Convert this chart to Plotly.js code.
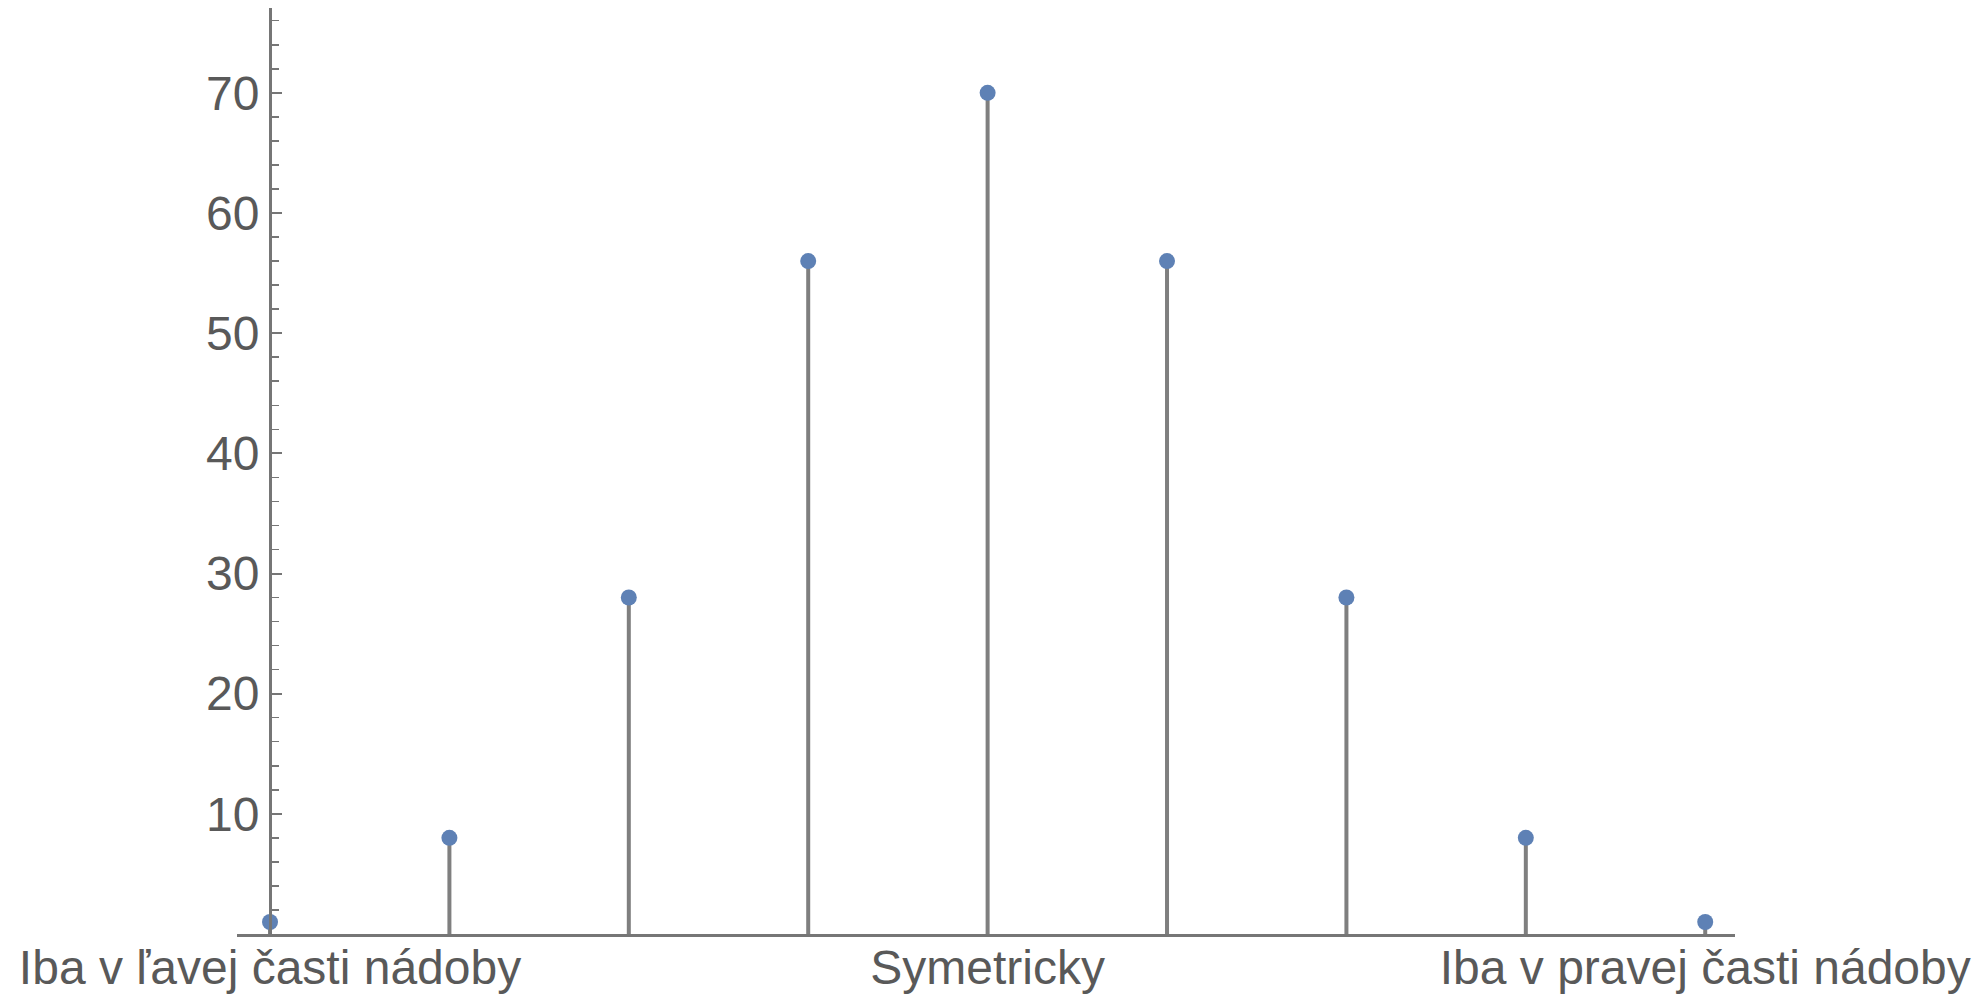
<!DOCTYPE html>
<html>
<head>
<meta charset="utf-8">
<script src="https://cdn.plot.ly/plotly-3.0.1.min.js"></script>
<style>html,body{margin:0;padding:0;background:#fff;}#chart{width:1985px;height:995px;}</style>
</head>
<body>
<div id="chart"></div>
<script>
// Data
const positions = [0, 1, 2, 3, 4, 5, 6, 7, 8];
const counts = [1, 8, 28, 56, 70, 56, 28, 8, 1];
const xTickPositions = [0, 4, 8];
const xTickLabels = ["Iba v ľavej časti nádoby", "Symetricky", "Iba v pravej časti nádoby"];
const yTickValues = [10, 20, 30, 40, 50, 60, 70];
const yMinorValues = [2, 4, 6, 8, 12, 14, 16, 18, 22, 24, 26, 28, 32, 34, 36, 38, 42, 44, 46, 48, 52, 54, 56, 58, 62, 64, 66, 68, 72, 74, 76];

const xmin = -0.184, xmax = 8.166;
const zerosArr = counts.map(() => 0);

const trace = {
  type: 'scatter',
  mode: 'markers',
  x: positions,
  y: counts,
  marker: {color: '#5E81B5', size: 16},
  error_y: {
    type: 'data',
    symmetric: false,
    array: zerosArr,
    arrayminus: counts,
    width: 0,
    thickness: 4,
    color: '#7f7f7f'
  },
  hoverinfo: 'x+y',
  showlegend: false
};

const font = {family: '"Liberation Sans", Arial, sans-serif', size: 48, color: '#595959'};

const layout = {
  width: 1985,
  height: 995,
  margin: {l: 237, r: 250, t: 8, b: 61},
  paper_bgcolor: '#ffffff',
  plot_bgcolor: '#ffffff',
  showlegend: false,
  font: font,
  xaxis: {
    range: [xmin, xmax],
    showgrid: false,
    zeroline: false,
    showline: true,
    linecolor: '#767676',
    linewidth: 3,
    ticks: '',
    ticklen: 0,
    ticklabelstandoff: -11,
    tickmode: 'array',
    tickvals: xTickPositions,
    ticktext: xTickLabels,
    tickfont: font
  },
  yaxis: {
    range: [0, 77.06],
    anchor: 'free',
    position: (0 - xmin) / (xmax - xmin),
    showgrid: false,
    zeroline: false,
    showline: true,
    linecolor: '#767676',
    linewidth: 2.5,
    ticks: 'inside',
    ticklen: 10,
    tickwidth: 2,
    tickcolor: '#767676',
    tickmode: 'array',
    tickvals: yTickValues,
    tickfont: font,
    minor: {
      tickmode: 'array',
      tickvals: yMinorValues,
      ticks: 'inside',
      ticklen: 7,
      tickwidth: 1.5,
      tickcolor: '#767676',
      showgrid: false
    }
  }
};

Plotly.newPlot('chart', [trace], layout, {displayModeBar: false, staticPlot: true});
</script>
</body>
</html>
